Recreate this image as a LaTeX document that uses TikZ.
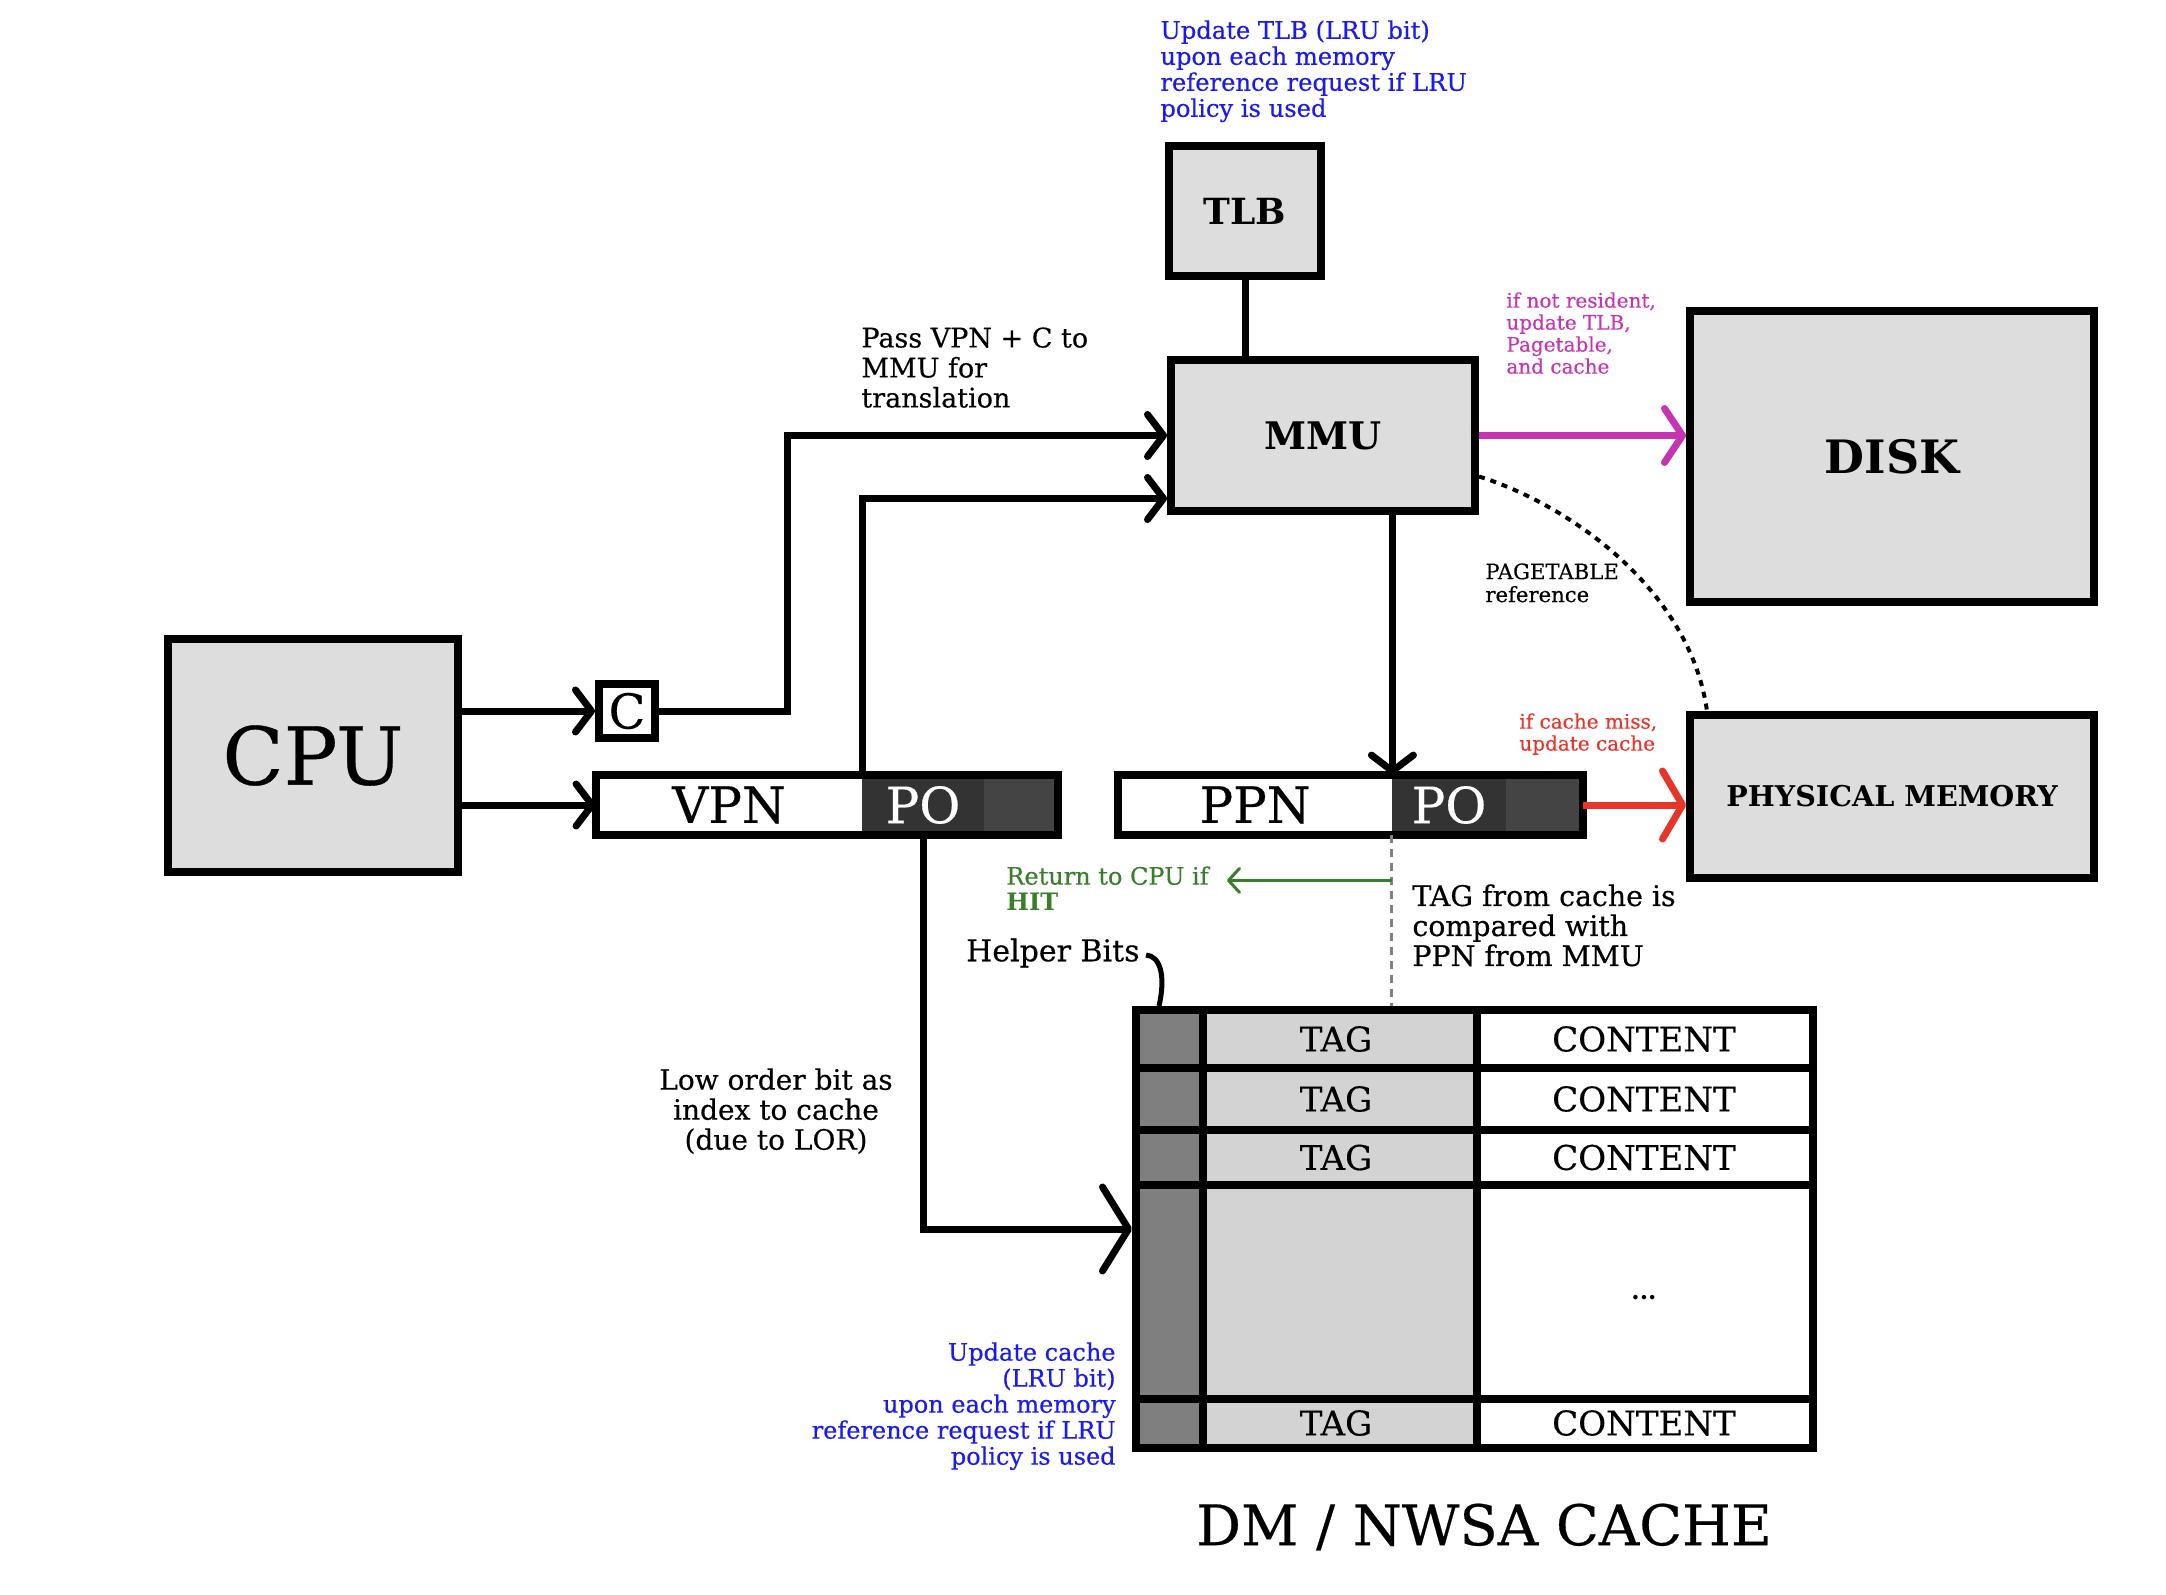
\documentclass[tikz,border=0pt]{standalone}
\usepackage{fontspec}
\setmainfont{DejaVu Serif}[UprightFeatures={FakeBold=0.4}]
\usetikzlibrary{arrows.meta}
\usetikzlibrary{calc}
\usetikzlibrary{positioning}

\definecolor{boxgray}{HTML}{DDDDDD}
\definecolor{taggray}{HTML}{D3D3D3}
\definecolor{helpgray}{HTML}{7F7F7F}
\definecolor{podark}{HTML}{333333}
\definecolor{popad}{HTML}{444444}
\definecolor{lrublue}{HTML}{1A1AF0}
\definecolor{diskpink}{HTML}{C535B0}
\definecolor{missred}{HTML}{E8352A}
\definecolor{hitgreen}{HTML}{3A7D2C}

\begin{document}
\begin{tikzpicture}[x=0.5pt,y=-0.5pt,
    box/.style={draw, line width=4pt, fill=boxgray, inner sep=0pt},
    frame/.style={draw, line width=4pt, inner sep=0pt},
    field/.style={inner sep=0pt, minimum width=#1, minimum height=30pt,
      font=\fontsize{25}{25}\selectfont},
    note/.style={inner sep=0pt, align=left},
    celltext/.style={inner sep=0pt, font=\fontsize{17}{17}\selectfont},
    arr/.style={line width=3.5pt, -{Straight Barb[length=8pt,width=21pt,round]}},
    bigtip/.style={-{Straight Barb[length=13pt,width=42pt,round]}},
    pinkarr/.style={diskpink, line width=3.5pt,
      -{Straight Barb[length=9pt,width=27pt,round]}},
    redarr/.style={missred, line width=3.5pt,
      -{Straight Barb[length=10pt,width=34pt,round]}},
    hitarr/.style={hitgreen, line width=1.5pt,
      -{Straight Barb[length=5.5pt,width=12pt,round]}}]
  \useasboundingbox (0,0) rectangle (2166,1594);

  % boxes
  \node[box, minimum width=145pt, minimum height=116.5pt,
    font=\fontsize{40}{40}\selectfont] (cpu) at (313,755.5) {CPU};
  \node[frame, minimum width=28pt, minimum height=27pt,
    font=\fontsize{24}{24}\selectfont] (c) at (627,711) {C};
  \node[box, minimum width=76pt, minimum height=65pt,
    font=\bfseries\fontsize{18}{18}\selectfont] (tlb) at (1245,211) {TLB};
  \node[box, minimum width=152pt, minimum height=75.5pt,
    font=\bfseries\fontsize{19}{19}\selectfont] (mmu) at (1323,435.5) {MMU};
  \node[box, minimum width=202pt, minimum height=145.5pt,
    font=\bfseries\fontsize{23}{23}\selectfont] (disk) at (1892,456.5) {DISK};
  \node[box, minimum width=202pt, minimum height=81.5pt,
    font=\bfseries\fontsize{14.3}{14.3}\selectfont] (pm) at (1892,796.5) {PHYSICAL MEMORY};

  % virtual and physical address
  \node[field=133pt, fill=white] (vpn) at (729,805) {VPN};
  \node[field=61pt, fill=podark, text=white] (vpo) at (923,805) {PO};
  \node[field=37pt, fill=popad] (vpad) at (1021,805) {};
  \draw[frame] (vpn.north west) rectangle (vpad.south east);
  \node[field=137pt, fill=white] (ppn) at (1255,805) {PPN};
  \node[field=57pt, fill=podark, text=white] (ppo) at (1449,805) {PO};
  \node[field=38.5pt, fill=popad] (ppad) at (1544.5,805) {};
  \draw[frame] (ppn.north west) rectangle (ppad.south east);

  % cache
  \fill[helpgray] (1136,1010) rectangle (1203,1448);
  \fill[taggray] (1203,1010) rectangle (1477,1448);
  \foreach \y in {1068,1130,1185,1399}
    \draw[line width=4pt] (1136,\y) -- (1813,\y);
  \draw[line width=4pt] (1203,1010) -- (1203,1448);
  \draw[line width=4pt] (1477,1010) -- (1477,1448);
  \node[frame, minimum width=338.5pt, minimum height=219pt] (cache) at (1474.5,1229) {};
  \foreach \y [count=\i] in {1039,1099,1157.5,1423} {
    \node[celltext] (tag\i) at (1336,\y) {TAG};
    \node[celltext] (cont\i) at (1644,\y) {CONTENT};
  }
  \node[inner sep=0pt, font=\bfseries\fontsize{12}{12}\selectfont] (dots) at (1644,1298) {...};
  \node[inner sep=0pt, font=\fontsize{28}{28}\selectfont] (title) at (1484,1527) {DM / NWSA CACHE};

  % arrows
  \draw[arr] (cpu.east |- c.west) -- (c.west);
  \draw[arr] (cpu.east |- vpn.west) -- (vpn.west);
  \draw[arr] (c.east) -- ++(128,0) |- (mmu.west);
  \draw[arr] (vpn.north east) |- ($(mmu.west)+(0,63)$);
  \draw[line width=3.5pt] (tlb.south) -- (tlb.south |- mmu.north);
  \draw[arr] (mmu.south -| ppn.north east) -- (ppn.north east);
  \draw[pinkarr] (mmu.east) -- (mmu.east -| disk.west);
  \draw[redarr] (ppad.east) -- (ppad.east -| pm.west);
  \draw[arr, bigtip] (vpo.south) |- (cache.west);
  \draw[line width=2pt, dash pattern=on 3pt off 3pt]
    ($(mmu.east)+(0,41)$) .. controls (1570,505) and (1690,590)
    .. ($(pm.north west)+(21,0)$);
  \draw[gray, line width=1.3pt, dash pattern=on 4pt off 3pt]
    (ppo.south west) -- (ppo.south west |- cache.north);
  \coordinate (hit) at ($(ppo.south west)+(0,45)$);

  % labels
  \node[note, anchor=north west, text=lrublue, font=\fontsize{12.1}{13}\selectfont]
    (tlbnote) at (1160,20)
    {Update TLB (LRU bit)\\upon each memory\\reference request if LRU\\policy is used};
  \node[note, anchor=north west, font=\fontsize{13.5}{15}\selectfont]
    (passnote) at (861,327) {Pass VPN + C to\\MMU for\\translation};
  \node[note, anchor=north west, text=diskpink, font=\fontsize{10}{11}\selectfont]
    (residnote) at (1506,292) {if not resident,\\update TLB,\\Pagetable,\\and cache};
  \node[note, anchor=north west, font=\fontsize{10.6}{11.5}\selectfont]
    (ptnote) at (1485,563) {PAGETABLE\\reference};
  \node[note, anchor=north west, text=missred, font=\fontsize{10}{11}\selectfont]
    (missnote) at (1519,713) {if cache miss,\\update cache};
  \node[note, anchor=north west, text=hitgreen, font=\fontsize{12}{13}\selectfont]
    (ret) at (1006,866) {Return to CPU if\\\textbf{HIT}};
  \draw[hitarr] (hit) -- ($(hit -| ret.east)+(18,0)$);
  \node[note, anchor=north west, font=\fontsize{14.2}{15}\selectfont]
    (tagnote) at (1412,884) {TAG from cache is\\compared with\\PPN from MMU};
  \node[inner sep=0pt, anchor=east, font=\fontsize{15}{15}\selectfont]
    (helper) at (1140,953) {Helper Bits};
  \draw[line width=2.5pt] ($(helper.east)+(6,2)$) .. controls (1160,956) and (1166,975)
    .. ($(cache.north west)+(27,0)$);
  \node[note, align=center, anchor=north, font=\fontsize{14}{15}\selectfont]
    (lornote) at (776,1068) {Low order bit as\\index to cache\\(due to LOR)};
  \node[note, align=right, anchor=north east, text=lrublue, font=\fontsize{12}{13}\selectfont]
    (cachenote) at (1116,1342)
    {Update cache\\(LRU bit)\\upon each memory\\reference request if LRU\\policy is used};
\end{tikzpicture}
\end{document}
